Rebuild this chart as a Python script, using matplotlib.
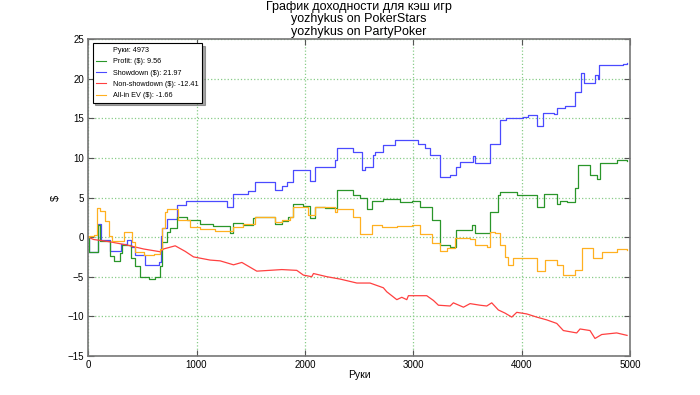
import matplotlib
matplotlib.use("Agg")
import matplotlib.pyplot as plt
from matplotlib.lines import Line2D

plt.rcParams["font.family"] = ["Liberation Sans", "DejaVu Sans"]

# --- data (hand number, cumulative $) ---
showdown_x = [0, 10, 90, 117, 197, 305, 357, 394, 434, 526, 649, 670, 680, 726, 818, 904,
              1280, 1340, 1479, 1540, 1725, 1787, 1833, 1888, 2048, 2094, 2279, 2294, 2448,
              2525, 2555, 2626, 2650, 2724, 2832, 3047, 3109, 3155, 3247, 3340, 3395, 3430,
              3555, 3570, 3708, 3800, 3856, 4016, 4062, 4145, 4200, 4299, 4330, 4400, 4493,
              4548, 4576, 4677, 4708, 4717, 4940, 4973]
showdown_y = [0, -1.9, 1.6, -0.4, -1.7, -0.9, -0.4, -1.25, -2.2, -3.5, -3.2, 0.1, 1.1, 2.3, 4.1, 4.6,
              3.85, 5.4, 5.8, 7.0, 5.95, 6.45, 7.0, 8.5, 7.1, 8.8, 9.7, 11.2, 10.8,
              8.5, 8.9, 10.4, 10.7, 11.6, 12.3, 11.8, 11.25, 10.4, 7.6, 7.8, 8.9, 9.5,
              10.2, 9.35, 11.75, 14.8, 15.0, 15.2, 15.4, 14.0, 15.7, 15.5, 16.25, 16.5, 18.35,
              20.7, 19.5, 20.45, 19.9, 21.7, 21.8, 21.97]

profit_x = [0, 10, 90, 111, 197, 234, 295, 311, 394, 434, 480, 557, 618, 664, 680, 726, 756, 818,
            910, 1033, 1153, 1310, 1340, 1433, 1525, 1540, 1725, 1787, 1848, 1888, 1986, 2048,
            2094, 2186, 2294, 2448, 2509, 2571, 2617, 2724, 2878, 2986, 3063, 3170, 3247, 3340,
            3395, 3540, 3570, 3708, 3785, 3800, 3955, 4139, 4207, 4324, 4354, 4416, 4493, 4523,
            4631, 4693, 4723, 4877, 4973]
profit_y = [0, -1.9, 1.5, -0.5, -2.4, -3.0, -2.0, -1.0, -2.6, -3.7, -5.05, -5.3, -5.1, -3.7, -0.6, 0.7, 1.1, 2.6,
            2.2, 1.7, 1.4, 0.5, 1.8, 1.5, 2.4, 2.6, 1.7, 2.0, 2.6, 4.2, 3.9, 2.4,
            3.85, 3.7, 5.95, 5.3, 5.0, 3.6, 4.5, 4.8, 4.4, 4.6, 3.85, 2.2, -1.0, -1.3,
            0.9, 1.5, 0.5, 3.2, 5.3, 5.7, 5.3, 3.8, 5.45, 4.2, 4.6, 4.4, 6.15, 9.1,
            7.85, 7.3, 9.3, 9.75, 9.56]

nonsd_x = [0, 49, 203, 357, 511, 664, 695, 803, 895, 972, 1125, 1218, 1341, 1418, 1556, 1787,
           1925, 1986, 2063, 2079, 2202, 2325, 2479, 2601, 2724, 2755, 2848, 2894, 2940, 2955,
           3124, 3186, 3232, 3340, 3370, 3463, 3524, 3616, 3678, 3724, 3785, 3847, 3909,
           3955, 4047, 4139, 4231, 4324, 4385, 4508, 4539, 4631, 4677, 4739, 4877, 4973]
nonsd_y = [0, -0.3, -0.6, -1.0, -1.5, -1.85, -1.5, -1.1, -1.8, -2.5, -2.9, -3.0, -3.5, -3.2, -4.3, -4.1,
           -4.2, -4.8, -5.0, -4.6, -5.0, -5.3, -5.8, -5.8, -6.4, -6.9, -7.9, -7.6, -7.9, -7.4,
           -7.4, -8.0, -8.6, -8.7, -8.3, -8.85, -8.4, -8.6, -8.7, -8.3, -9.2, -9.6, -10.1,
           -9.5, -9.7, -10.1, -10.45, -10.9, -11.8, -12.1, -11.6, -11.8, -12.8, -12.3, -12.1, -12.41]

allin_x = [0, 10, 49, 80, 111, 157, 188, 218, 326, 403, 434, 511, 603, 664, 680, 711, 726, 818,
           833, 941, 1033, 1172, 1340, 1433, 1540, 1725, 1787, 1863, 1894, 2033, 2094, 2279,
           2294, 2448, 2509, 2617, 2709, 2848, 2986, 3063, 3170, 3247, 3309, 3386, 3524, 3570,
           3678, 3708, 3755, 3800, 3847, 3877, 3924, 4139, 4216, 4324, 4385, 4493, 4554, 4662,
           4739, 4877, 4973]
allin_y = [0, 0.1, 0.3, 3.7, 3.3, 2.0, 0.2, -0.5, 0.7, -0.6, -1.85, -2.3, -2.1, -1.5, 1.1, 3.2, 3.6, 3.5,
           2.1, 1.3, 1.0, 0.8, 1.3, 1.6, 2.6, 1.95, 2.2, 2.6, 3.85, 2.8, 3.85, 3.2,
           3.5, 2.6, 0.4, 1.5, 1.3, 1.4, 1.5, 0.4, -0.75, -1.7, -1.35, -0.1, -0.3, -1.0,
           -1.2, 0.7, 0.5, -1.0, -2.5, -3.5, -2.6, -4.3, -2.9, -3.5, -4.8, -4.1, -1.35, -2.6,
           -1.9, -1.5, -1.66]

hands_total = 4973
legend_labels = ["Profit: ($): 9.56", "Showdown ($): 21.97",
                 "Non-showdown ($): -12.41", "All-in EV ($): -1.66"]
title_lines = ["График доходности для кэш игр",
               "yozhykus on PokerStars",
               "yozhykus on PartyPoker"]

fig = plt.figure(figsize=(7, 3.95), dpi=100)
ax = fig.add_axes([0.126, 0.099, 0.774, 0.802])

lw = 0.9
ax.plot(showdown_x, showdown_y, drawstyle="steps-post", color="#4a4aff", lw=lw)
ax.plot(profit_x, profit_y, drawstyle="steps-post", color="#2a962a", lw=lw)
ax.plot(nonsd_x, nonsd_y, color="#ff4040", lw=lw)
ax.plot(allin_x, allin_y, drawstyle="steps-post", color="#ffb020", lw=lw)

ax.set_xlim(0, 5000)
ax.set_ylim(-15, 25)
ax.set_xticks(range(0, 5001, 1000))
ax.set_yticks(range(-15, 26, 5))
ax.tick_params(direction="in", top=True, right=True, labelsize=7, length=4,
               color="#555555", pad=3)
for s in ax.spines.values():
    s.set_color("#777777")
    s.set_linewidth(1.2)
ax.grid(True, color="#88cc88", linestyle=":", linewidth=0.9)

ax.set_xlabel("Руки", fontsize=7.5, labelpad=0)
ax.set_ylabel("$", fontsize=8, labelpad=5)
ax.set_title("\n".join(title_lines), fontsize=9, pad=3, linespacing=1.05)

handles = [Line2D([], [], color="none"),
           Line2D([], [], color="#2a962a", lw=0.8),
           Line2D([], [], color="#4a4aff", lw=0.8),
           Line2D([], [], color="#ff4040", lw=0.8),
           Line2D([], [], color="#ffb020", lw=0.8)]
labels = [f"Руки: {hands_total}"] + legend_labels
leg = ax.legend(handles, labels, loc="upper left", fontsize=5.2, shadow=True,
                fancybox=False, framealpha=1, edgecolor="black",
                borderaxespad=0.6, handlelength=1.4, handletextpad=1.0,
                labelspacing=0.6, borderpad=0.45)
leg.get_frame().set_linewidth(0.8)

fig.savefig("out.png", dpi=100)
